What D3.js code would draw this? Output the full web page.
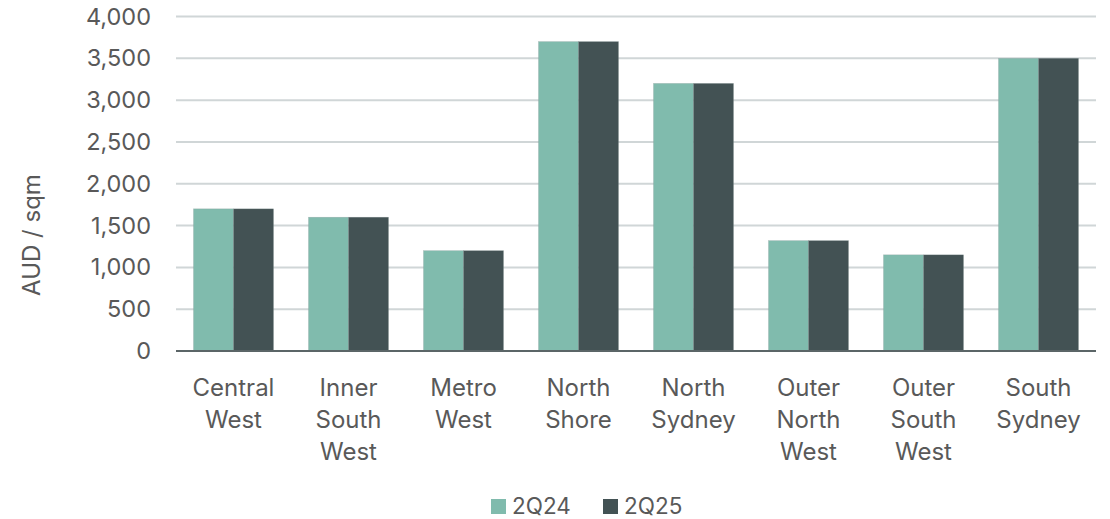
<!DOCTYPE html>
<html>
<head>
<meta charset="utf-8">
<script src="https://cdn.jsdelivr.net/npm/d3@7"></script>
<style>
  html, body { margin: 0; padding: 0; background: #ffffff; }
  svg { display: block; }
  text { font-family: Inter, "Open Sans", sans-serif; fill: #595959; }
</style>
</head>
<body>
<svg id="chart" width="1110" height="519"></svg>
<script>
// Land values by Sydney industrial submarket (AUD / sqm)
const categories = [
  ["Central", "West"],
  ["Inner", "South", "West"],
  ["Metro", "West"],
  ["North", "Shore"],
  ["North", "Sydney"],
  ["Outer", "North", "West"],
  ["Outer", "South", "West"],
  ["South", "Sydney"]
];
const seriesNames = ["2Q24", "2Q25"];
const values2Q24 = [1700, 1600, 1200, 3700, 3200, 1320, 1150, 3500];
const values2Q25 = [1700, 1600, 1200, 3700, 3200, 1320, 1150, 3500];
const yTicks = [0, 500, 1000, 1500, 2000, 2500, 3000, 3500, 4000];
const colors = ["#80bbad", "#435254"];

const svg = d3.select("#chart");
const margin = { left: 176, right: 14, top: 16.5, bottom: 168 };
const width = 1110, height = 519;
const x0 = margin.left, x1 = width - margin.right;
const yBase = height - margin.bottom;

const keys = categories.map(c => c.join(" "));
const x = d3.scaleBand().domain(keys).range([x0, x1])
  .paddingInner(0.304).paddingOuter(0.152);
const xs = d3.scaleBand().domain(seriesNames).range([0, x.bandwidth()]);
const y = d3.scaleLinear().domain([0, 4000]).range([yBase, margin.top]);

// Gridlines
svg.append("g")
  .selectAll("line")
  .data(yTicks.filter(d => d > 0))
  .join("line")
  .attr("x1", x0).attr("x2", x1)
  .attr("y1", d => y(d)).attr("y2", d => y(d))
  .attr("stroke", "#d0d6d7").attr("stroke-width", 2);

// Y axis labels
const yAxis = d3.axisLeft(y).tickValues(yTicks).tickSize(0).tickPadding(25)
  .tickFormat(d3.format(","));
const gy = svg.append("g").attr("transform", `translate(${x0},0)`).call(yAxis);
gy.select(".domain").remove();
gy.selectAll("text").style("font-size", "23.5px").attr("fill", "#595959")
  .style("font-family", "Inter, 'Open Sans', sans-serif");

// Bars
const seriesVals = [values2Q24, values2Q25];
const groups = svg.append("g").selectAll("g")
  .data(keys.map((k, i) => ({ k, i })))
  .join("g")
  .attr("transform", d => `translate(${x(d.k)},0)`);
groups.selectAll("rect")
  .data(d => seriesNames.map((s, si) => ({ s, si, v: seriesVals[si][d.i] })))
  .join("rect")
  .attr("x", d => xs(d.s))
  .attr("width", xs.bandwidth())
  .attr("y", d => y(d.v))
  .attr("height", d => yBase - y(d.v))
  .attr("fill", d => colors[d.si])
  .attr("stroke", "#8a9a98").attr("stroke-width", 0.5).attr("stroke-opacity", 0.5);

// Baseline
svg.append("line")
  .attr("x1", x0).attr("x2", x1)
  .attr("y1", yBase).attr("y2", yBase)
  .attr("stroke", "#5b6567").attr("stroke-width", 2);

// Category labels (multi-line)
const lab = svg.append("g").selectAll("text")
  .data(categories.map((c, i) => ({ c, k: keys[i] })))
  .join("text")
  .attr("text-anchor", "middle")
  .attr("x", d => x(d.k) + x.bandwidth() / 2)
  .attr("y", 396)
  .style("font-size", "24px");
lab.selectAll("tspan")
  .data(d => d.c.map((t, j) => ({ t, j, xx: x(d.k) + x.bandwidth() / 2 })))
  .join("tspan")
  .attr("x", d => d.xx)
  .attr("dy", d => d.j === 0 ? 0 : 32)
  .text(d => d.t);

// Y axis title
svg.append("text")
  .attr("transform", `translate(40,235) rotate(-90)`)
  .attr("text-anchor", "middle")
  .style("font-size", "24px")
  .text("AUD / sqm");

// Legend
const legendX = [491, 603];
const lg = svg.append("g").selectAll("g")
  .data(seriesNames.map((s, i) => ({ s, i })))
  .join("g")
  .attr("transform", d => `translate(${legendX[d.i]},499)`);
lg.append("rect").attr("width", 15).attr("height", 15)
  .attr("fill", d => colors[d.i]);
lg.append("text").attr("x", 21).attr("y", 15)
  .style("font-size", "22.5px")
  .text(d => d.s);
</script>
</body>
</html>
